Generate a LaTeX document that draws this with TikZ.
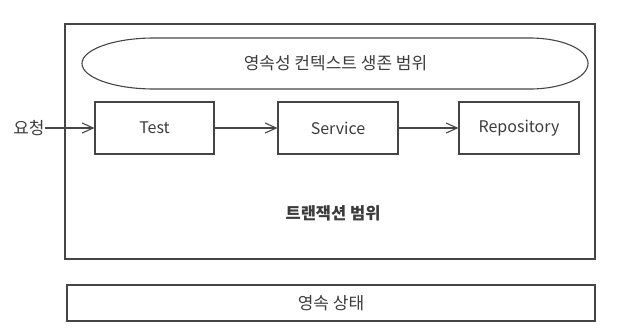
\documentclass[tikz,border=0pt]{standalone}
\usepackage{fontspec}
\setmainfont{Noto Sans CJK KR}
\usepackage{tikz}
\usetikzlibrary{positioning,arrows.meta}
\usepackage{xcolor}
\definecolor{inkcol}{HTML}{3C3C3C}
\definecolor{linecol}{HTML}{454545}

\begin{document}
\begin{tikzpicture}[x=1pt,y=-1pt,
          box/.style={draw=linecol,line width=1.1pt,inner sep=0pt,text=inkcol},
          lbl/.style={text=inkcol,font=\fontsize{16}{18}\selectfont,inner sep=0pt},
          klbl/.style={lbl,font=\fontsize{17}{19}\selectfont},
          flow/.style={-{Straight Barb[length=11pt,width=10pt]},draw=linecol,line width=1.1pt}
        ]
        \useasboundingbox (0,0) rectangle (626,330);
        % transaction scope
        \node[box,minimum width=530pt,minimum height=235pt] (txn) at (330,141.5) {};
        \node[lbl,font=\fontsize{16.5}{18}\selectfont\bfseries] (txnlbl) at (333,213) {트랜잭션 범위};
        % persistence context lifetime
        \draw[draw=linecol,line width=1.1pt] (154,38) -- (530,38)
          .. controls (562,38) and (588,49.4) .. (588,63.5)
          .. controls (588,77.6) and (562,89) .. (530,89) -- (154,89)
          .. controls (114.3,89) and (82,77.6) .. (82,63.5)
          .. controls (82,49.4) and (114.3,38) .. (154,38) -- cycle;
        \node[klbl] (ctx) at (335.5,63.5) {영속성 컨텍스트 생존 범위};
        % call chain
        \node[klbl] (req) at (29,128) {요청};
        \node[box,lbl,draw=linecol,line width=1.1pt,minimum width=119pt,minimum height=52pt] (test) at (154.5,128) {Test};
        \node[box,lbl,draw=linecol,line width=1.1pt,minimum width=120pt,minimum height=52pt] (svc) at (338,128) {Service};
        \node[box,lbl,draw=linecol,line width=1.1pt,minimum width=120pt,minimum height=52pt] (repo) at (519,128) {Repository};
        \draw[flow] (req) -- (test);
        \draw[flow] (test) -- (svc);
        \draw[flow] (svc) -- (repo);
        % persistence state
        \node[box,klbl,draw=linecol,line width=1.1pt,minimum width=528pt,minimum height=36pt] (state) at (331,303) {영속 상태};
      \end{tikzpicture}
\end{document}
